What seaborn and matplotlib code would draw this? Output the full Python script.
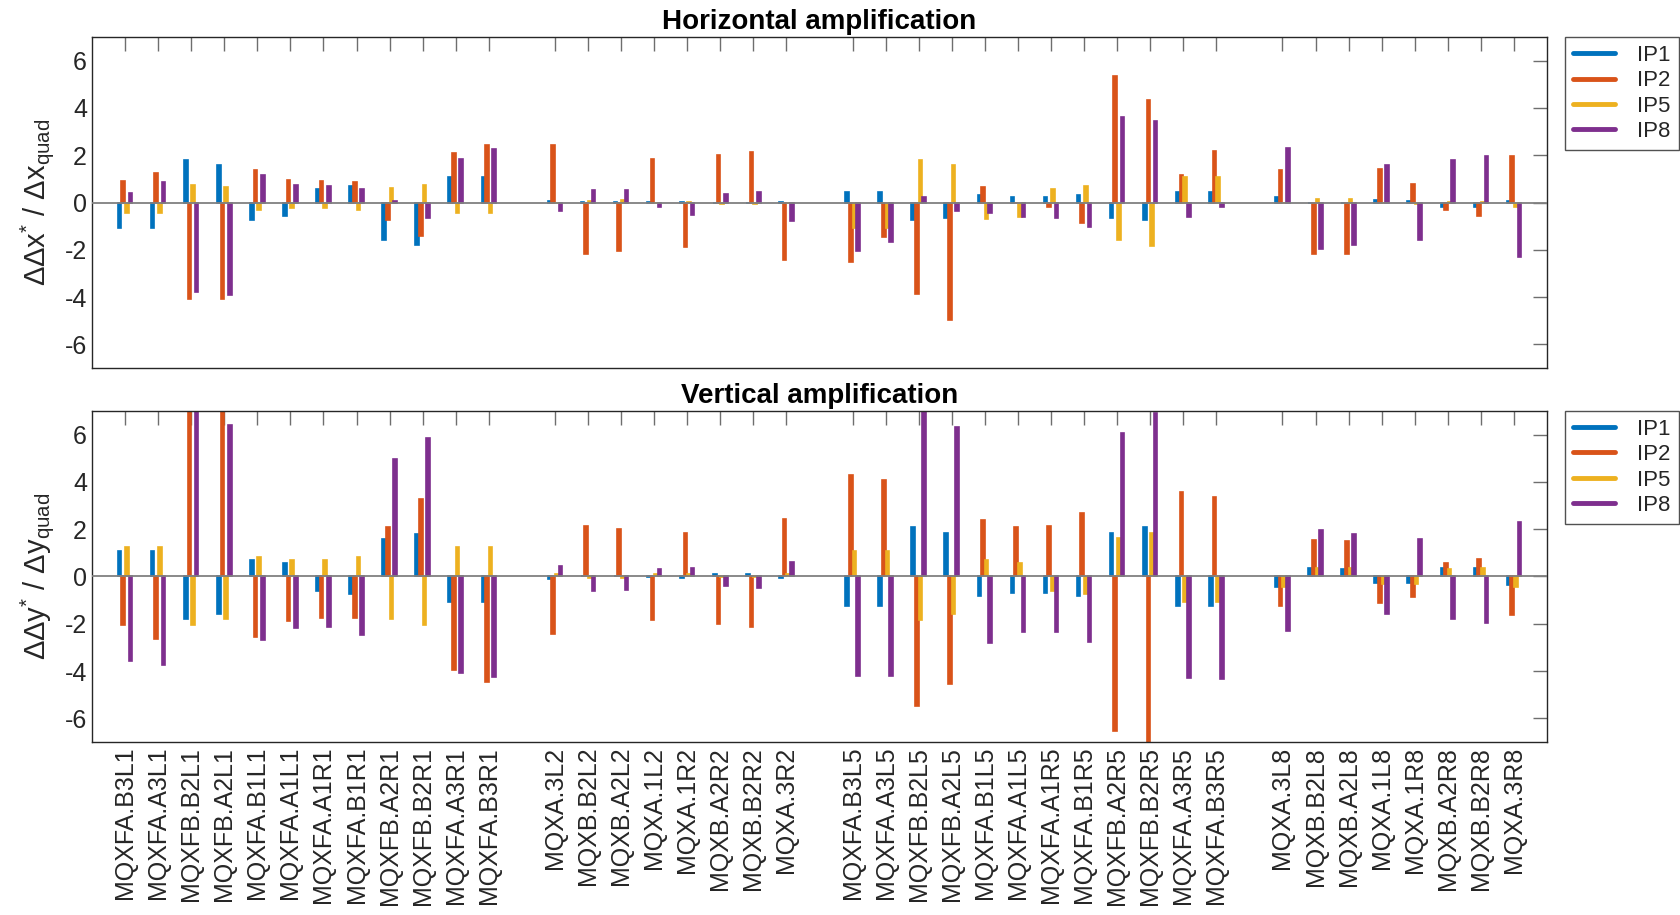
import numpy as np
import pandas as pd
import seaborn as sns
import matplotlib.pyplot as plt
from matplotlib.lines import Line2D

# magnet names, one list per interaction region
ir1 = ['MQXFA.B3L1', 'MQXFA.A3L1', 'MQXFB.B2L1', 'MQXFB.A2L1', 'MQXFA.B1L1', 'MQXFA.A1L1',
       'MQXFA.A1R1', 'MQXFA.B1R1', 'MQXFB.A2R1', 'MQXFB.B2R1', 'MQXFA.A3R1', 'MQXFA.B3R1']
ir2 = ['MQXA.3L2', 'MQXB.B2L2', 'MQXB.A2L2', 'MQXA.1L2', 'MQXA.1R2', 'MQXB.A2R2', 'MQXB.B2R2', 'MQXA.3R2']
ir5 = ['MQXFA.B3L5', 'MQXFA.A3L5', 'MQXFB.B2L5', 'MQXFB.A2L5', 'MQXFA.B1L5', 'MQXFA.A1L5',
       'MQXFA.A1R5', 'MQXFA.B1R5', 'MQXFB.A2R5', 'MQXFB.B2R5', 'MQXFA.A3R5', 'MQXFA.B3R5']
ir8 = ['MQXA.3L8', 'MQXB.B2L8', 'MQXB.A2L8', 'MQXA.1L8', 'MQXA.1R8', 'MQXB.A2R8', 'MQXB.B2R8', 'MQXA.3R8']

ips = ['IP1', 'IP2', 'IP5', 'IP8']
colors = ['#0072BD', '#D95319', '#EDB120', '#7E2F8E']

# horizontal amplification
h_ip1 = [-1.09, -1.09, 1.79, 1.60, -0.72, -0.59, 0.59, 0.71, -1.58, -1.81, 1.06, 1.09,
         0.07, 0.03, 0.03, 0.03, 0.04, -0.03, -0.03, 0.03,
         0.44, 0.44, -0.75, -0.65, 0.30, 0.25, 0.25, 0.30, -0.66, -0.75, 0.44, 0.45,
         0.23, -0.03, -0.03, 0.11, 0.08, -0.18, -0.18, 0.07]
h_ip2 = [0.90, 1.24, -4.10, -4.10, 1.36, 0.95, 0.90, 0.85, -0.75, -1.41, 2.09, 2.44,
         2.43, -2.16, -2.03, 1.84, -1.86, 2.02, 2.13, -2.44,
         -2.51, -1.44, -3.88, -4.96, 0.66, -0.03, -0.18, -0.88, 5.34, 4.35, 1.16, 2.20,
         1.36, -2.16, -2.16, 1.40, 0.80, -0.30, -0.56, 1.95]
h_ip5 = [-0.44, -0.44, 0.73, 0.65, -0.30, -0.25, -0.25, -0.30, 0.62, 0.73, -0.44, -0.45,
         -0.03, 0.07, 0.11, -0.03, 0.04, -0.05, -0.05, -0.03,
         -1.09, -1.09, 1.79, 1.58, -0.71, -0.61, 0.58, 0.71, -1.60, -1.82, 1.06, 1.06,
         -0.03, 0.16, 0.16, -0.03, -0.05, 0.04, 0.04, -0.18]
h_ip8 = [0.42, 0.85, -3.77, -3.91, 1.17, 0.76, 0.71, 0.59, 0.05, -0.66, 1.84, 2.26,
         -0.34, 0.55, 0.51, -0.21, -0.51, 0.38, 0.45, -0.79,
         -2.06, -1.67, 0.25, -0.35, -0.45, -0.61, -0.65, -1.05, 3.63, 3.46, -0.62, -0.21,
         2.29, -1.98, -1.79, 1.58, -1.60, 1.78, 1.95, -2.30]

# vertical amplification (values beyond +-7 are cut by the axis limits)
v_ip1 = [1.09, 1.09, -1.81, -1.60, 0.71, 0.58, -0.61, -0.72, 1.58, 1.79, -1.09, -1.09,
         -0.11, 0.03, 0.03, -0.03, -0.08, 0.11, 0.11, -0.05,
         -1.26, -1.26, 2.08, 1.82, -0.83, -0.71, -0.71, -0.83, 1.82, 2.08, -1.26, -1.26,
         -0.45, 0.34, 0.30, -0.28, -0.28, 0.34, 0.37, -0.38]
v_ip2 = [-2.06, -2.63, 8.6, 8.6, -2.56, -1.89, -1.77, -1.77, 2.10, 3.28, -3.95, -4.46,
         -2.42, 2.13, 1.99, -1.82, 1.82, -2.01, -2.15, 2.43,
         4.29, 4.10, -5.47, -4.56, 2.39, 2.10, 2.13, 2.68, -6.54, -7.6, 3.59, 3.35,
         -1.23, 1.55, 1.51, -1.12, -0.85, 0.55, 0.72, -1.64]
v_ip5 = [1.24, 1.24, -2.06, -1.81, 0.81, 0.71, 0.71, 0.81, -1.81, -2.06, 1.23, 1.23,
         0.11, -0.05, -0.05, 0.11, 0.10, -0.03, -0.03, 0.11,
         1.07, 1.07, -1.82, -1.60, 0.71, 0.58, -0.61, -0.72, 1.61, 1.82, -1.09, -1.09,
         -0.45, 0.37, 0.34, -0.31, -0.31, 0.32, 0.37, -0.45]
v_ip8 = [-3.59, -3.73, 8.2, 6.41, -2.70, -2.19, -2.15, -2.47, 4.97, 5.86, -4.10, -4.25,
         0.45, -0.61, -0.56, 0.30, 0.37, -0.40, -0.47, 0.62,
         -4.19, -4.22, 7.5, 6.33, -2.82, -2.34, -2.34, -2.78, 6.06, 6.91, -4.28, -4.32,
         -2.30, 1.95, 1.78, -1.60, 1.58, -1.78, -1.96, 2.29]

# slot positions with one empty slot between regions
magnets, pos = [], []
start = 1
for grp in [ir1, ir2, ir5, ir8]:
    magnets += grp
    pos += list(range(start, start + len(grp)))
    start += len(grp) + 1


def long_frame(series):
    rows = []
    for ip, vals in zip(ips, series):
        for m, p, v in zip(magnets, pos, vals):
            rows.append({'magnet': m, 'pos': p, 'ip': ip, 'value': v})
    return pd.DataFrame(rows)


df_h = long_frame([h_ip1, h_ip2, h_ip5, h_ip8])
df_v = long_frame([v_ip1, v_ip2, v_ip5, v_ip8])

sns.set_style('white')
plt.rcParams['font.family'] = ['Liberation Sans', 'DejaVu Sans']
plt.rcParams['mathtext.fontset'] = 'custom'
plt.rcParams['mathtext.rm'] = 'Liberation Sans'
plt.rcParams['axes.unicode_minus'] = False

fig = plt.figure(figsize=(16.81, 9.15), dpi=100)
ax_h = fig.add_axes([0.0547, 0.5978, 0.8656, 0.3617])
ax_v = fig.add_axes([0.0547, 0.1891, 0.8656, 0.3617])

panels = [
    (ax_h, df_h, 'Horizontal amplification', r'ΔΔx$^\mathregular{*}$ / Δx$_\mathregular{quad}$'),
    (ax_v, df_v, 'Vertical amplification', r'ΔΔy$^\mathregular{*}$ / Δy$_\mathregular{quad}$'),
]

for ax, df, title, ylab in panels:
    sns.barplot(data=df, x='pos', y='value', hue='ip', hue_order=ips, palette=colors,
                native_scale=True, orient='x', width=0.44, errorbar=None,
                saturation=1, legend=False, ax=ax, linewidth=1.2)
    for bar, c in zip(ax.patches, np.repeat(colors, len(magnets))):
        bar.set_edgecolor(c)
    ax.axhline(0, color='#808080', linewidth=1.3, zorder=3)
    ax.set_xlim(0, start - 1)
    ax.set_ylim(-7, 7)
    ax.set_yticks([-6, -4, -2, 0, 2, 4, 6])
    ax.set_xticks(pos)
    if ax is ax_v:
        ax.set_xticklabels(magnets, rotation=90)
    else:
        ax.set_xticklabels([])
    ax.set_xlabel('')
    ax.set_ylabel(ylab, fontsize=21, color='#262626', labelpad=6)
    ax.set_title(title, fontsize=20, fontweight='bold', pad=6, color='black')
    ax.tick_params(direction='in', length=10, width=1, top=True, right=True,
                   color='#6e6e6e', labelsize=18, labelcolor='#262626')
    for sp in ax.spines.values():
        sp.set_color('#262626')
        sp.set_linewidth(1)
    handles = [Line2D([0], [0], color=c, linewidth=3.5) for c in colors]
    leg = ax.legend(handles, ips, loc='upper left', bbox_to_anchor=(1.0124, 1.0),
                    borderaxespad=0, fontsize=16, frameon=True, fancybox=False,
                    handlelength=1.9, handletextpad=1.0, labelspacing=0.2,
                    borderpad=0.35)
    leg.get_frame().set_edgecolor('#262626')
    leg.get_frame().set_linewidth(1)

fig.savefig('out.png', dpi=100)
